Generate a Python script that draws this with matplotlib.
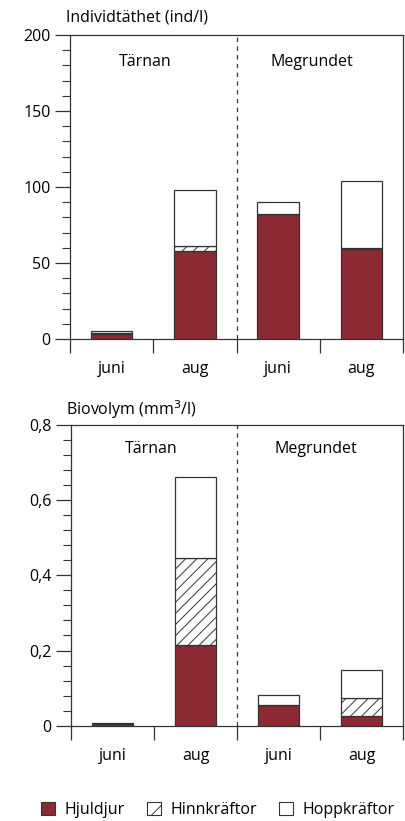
import matplotlib
matplotlib.use("Agg")
import matplotlib.pyplot as plt
from matplotlib.patches import Patch
from matplotlib.ticker import MultipleLocator, FuncFormatter
import numpy as np

plt.rcParams["font.family"] = ["Open Sans", "DejaVu Sans"]
plt.rcParams["hatch.linewidth"] = 0.7
plt.rcParams["hatch.color"] = "#444444"

months = ["juni", "aug", "juni", "aug"]
sites = ["Tärnan", "Megrundet"]
series = ["Hjuldjur", "Hinnkräftor", "Hoppkräftor"]

# Individtäthet (ind/l)
dens_hjuldjur = [3.5, 58, 82, 59.5]
dens_hinn = [0.3, 3, 0.3, 0.5]
dens_hopp = [1.5, 37, 8, 44]

# Biovolym (mm3/l)
bio_hjuldjur = [0.004, 0.215, 0.054, 0.027]
bio_hinn = [0.0005, 0.231, 0.001, 0.046]
bio_hopp = [0.0015, 0.215, 0.026, 0.075]

red = "#8B2A33"
edge = "#333333"
fs = 11.5

fig = plt.figure(figsize=(4.05, 8.21), dpi=100)
ax1 = fig.add_axes([70 / 405, 1 - 339 / 821, 333 / 405, 304 / 821])
ax2 = fig.add_axes([71 / 405, 1 - 725.7 / 821, 332 / 405, 300.7 / 821])


def draw(ax, h, hi, ho, ymax, major, minor, fmt, site_pos, site_y):
    x = np.arange(len(months))
    h = np.array(h)
    hi = np.array(hi)
    ho = np.array(ho)
    ax.bar(x, h, width=0.5, color=red, edgecolor=edge, linewidth=0.9, zorder=3)
    ax.bar(x, hi, width=0.5, bottom=h, color="white", edgecolor=edge,
           hatch="///", linewidth=0.9, zorder=3)
    ax.bar(x, ho, width=0.5, bottom=h + hi, color="white", edgecolor=edge,
           linewidth=0.9, zorder=3)
    ax.axvline(1.5, color=edge, linestyle=(0, (3.5, 3.5)), linewidth=0.9)
    ax.set_xlim(-0.5, 3.5)
    ax.set_ylim(0, ymax)
    ax.yaxis.set_major_locator(MultipleLocator(major))
    ax.yaxis.set_minor_locator(MultipleLocator(minor))
    ax.yaxis.set_major_formatter(FuncFormatter(fmt))
    ax.tick_params(axis="y", which="major", length=11, width=0.9,
                   color=edge, labelsize=fs, pad=3)
    ax.tick_params(axis="y", which="minor", length=6, width=0.8, color=edge)
    ax.set_xticks([-0.5, 0.5, 1.5, 2.5, 3.5])
    ax.set_xticklabels([])
    ax.set_xticks(x, minor=True)
    ax.set_xticklabels(months, minor=True)
    ax.tick_params(axis="x", which="major", length=10, width=0.9, color=edge)
    ax.tick_params(axis="x", which="minor", length=0, labelsize=fs, pad=16)
    for s in ax.spines.values():
        s.set_linewidth(0.9)
        s.set_color(edge)
    for name, px in zip(sites, site_pos):
        ax.text(px, site_y, name, transform=ax.get_xaxis_transform(),
                ha="center", va="center", fontsize=fs)


draw(ax1, dens_hjuldjur, dens_hinn, dens_hopp, 200, 50, 10,
     lambda v, p: f"{v:g}", [0.4, 2.4], 0.911)
draw(ax2, bio_hjuldjur, bio_hinn, bio_hopp, 0.8, 0.2, 0.04,
     lambda v, p: "0" if abs(v) < 1e-9 else f"{v:.1f}".replace(".", ","),
     [0.47, 2.45], 0.919)

fig.text(66 / 405, 1 - 18 / 821, "Individtäthet (ind/l)", ha="left",
         va="center", fontsize=fs)
fig.text(66 / 405, 1 - 410 / 821, "Biovolym (mm$^3$/l)", ha="left",
         va="center", fontsize=fs)

handles = [
    Patch(facecolor=red, edgecolor=edge, linewidth=0.8, label=series[0]),
    Patch(facecolor="white", edgecolor=edge, hatch="/", linewidth=0.8,
          label=series[1]),
    Patch(facecolor="white", edgecolor=edge, linewidth=0.8, label=series[2]),
]
fig.legend(handles=handles, loc="center left", ncol=3, frameon=False,
           bbox_to_anchor=(33 / 405, 1 - 810 / 821), fontsize=fs,
           handlelength=0.9, handleheight=0.9, handletextpad=0.6,
           columnspacing=1.35, borderpad=0)

fig.savefig("out.png", dpi=100)
